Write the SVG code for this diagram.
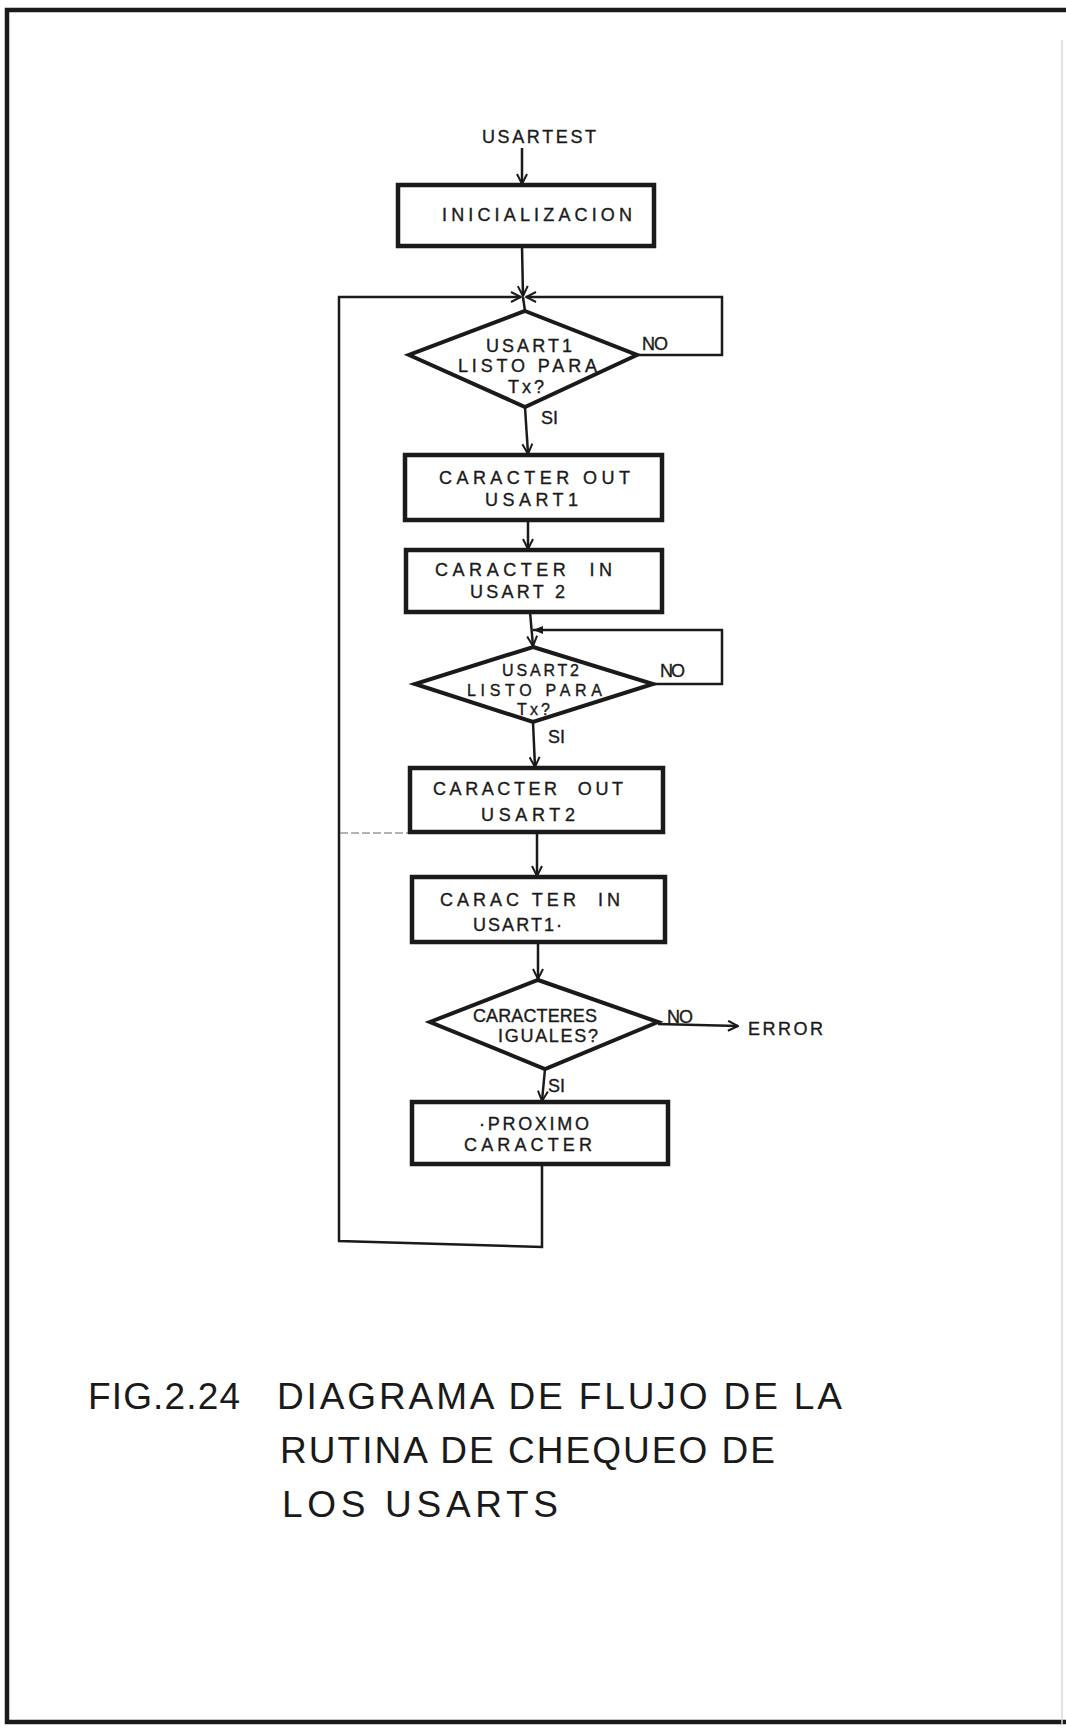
<svg xmlns="http://www.w3.org/2000/svg" width="1066" height="1733" viewBox="0 0 1066 1733">
<defs>
<style>
.t{font-family:"Liberation Sans",Arial,sans-serif;font-size:18px;fill:#1a1a1a;stroke:#1a1a1a;stroke-width:0.35px;}
.s{font-size:16px;}
.ti{font-family:"Liberation Sans",Arial,sans-serif;font-size:37px;fill:#1a1a1a;}
.box{fill:none;stroke:#1a1a1a;stroke-width:4.5;}
.dia{fill:none;stroke:#1a1a1a;stroke-width:4;stroke-linejoin:miter;}
.c{fill:none;stroke:#1a1a1a;stroke-width:2.5;}
</style>
<marker id="ah" viewBox="0 0 12 12" refX="11" refY="6" markerWidth="12" markerHeight="12" markerUnits="userSpaceOnUse" orient="auto">
<path d="M1,1 L11,6 L1,11" fill="none" stroke="#1a1a1a" stroke-width="2"/>
</marker>
<marker id="af" viewBox="0 0 12 12" refX="11" refY="6" markerWidth="12" markerHeight="12" markerUnits="userSpaceOnUse" orient="auto">
<path d="M1,2 L11,6 L1,10 Z" fill="#1a1a1a"/>
</marker>
</defs>
<rect width="1066" height="1733" fill="#ffffff"/>
<g id="frame">
<path d="M1066,10 L7,10 L7,1722 L1066,1722" fill="none" stroke="#1a1a1a" stroke-width="4.5"/>
<line x1="1062" y1="40" x2="1062" y2="1725" stroke="#d8d8d8" stroke-width="1.5"/>
</g>
<g id="connectors">
<line class="c" x1="522" y1="148" x2="522" y2="184" marker-end="url(#ah)"/>
<line class="c" x1="522" y1="246" x2="523" y2="296" marker-end="url(#ah)"/>
<line class="c" x1="523" y1="297" x2="525" y2="311"/>
<polyline class="c" points="542,1164 542,1247 339,1241 339,297 521,297" marker-end="url(#ah)"/>
<polyline class="c" points="637,355 722,355 722,297 526,297" marker-end="url(#ah)"/>
<line class="c" x1="525" y1="407" x2="528" y2="454" marker-end="url(#ah)"/>
<line class="c" x1="528" y1="520" x2="528" y2="549" marker-end="url(#ah)"/>
<line class="c" x1="530" y1="612" x2="533" y2="646" marker-end="url(#ah)"/>
<polyline class="c" points="653,684 722,684 722,630 533,630" marker-end="url(#af)"/>
<line class="c" x1="533" y1="722" x2="535" y2="767" marker-end="url(#ah)"/>
<line class="c" x1="537" y1="832" x2="537" y2="876" marker-end="url(#ah)"/>
<line class="c" x1="538" y1="942" x2="538" y2="979" marker-end="url(#ah)"/>
<line class="c" x1="658" y1="1024" x2="738" y2="1026" marker-end="url(#ah)"/>
<line class="c" x1="545" y1="1069" x2="542" y2="1101" marker-end="url(#ah)"/>
<line x1="340" y1="833" x2="410" y2="833" stroke="#9a9a9a" stroke-width="1.5" stroke-dasharray="8,3"/>
</g>
<g id="start">
<text class="t" x="482" y="143" textLength="114" lengthAdjust="spacing">USARTEST</text>
</g>
<g id="inicializacion">
<rect class="box" x="398" y="185" width="256" height="61"/>
<text class="t" x="442" y="221" textLength="190" lengthAdjust="spacing">INICIALIZACION</text>
</g>
<g id="dec1">
<polygon class="dia" points="525,311 637,355 525,407 409,355"/>
<text class="t" x="486" y="352" textLength="86" lengthAdjust="spacing">USART1</text>
<text class="t" x="458" y="372" textLength="139" lengthAdjust="spacing">LISTO PARA</text>
<text class="t" x="508" y="393" textLength="36" lengthAdjust="spacing">Tx?</text>
<text class="t" x="642" y="350" textLength="26" lengthAdjust="spacing">NO</text>
<text class="t" x="541" y="424">SI</text>
</g>
<g id="out1">
<rect class="box" x="405" y="455" width="257" height="65"/>
<text class="t" x="439" y="484" textLength="191" lengthAdjust="spacing">CARACTER OUT</text>
<text class="t" x="485" y="506" textLength="93" lengthAdjust="spacing">USART1</text>
</g>
<g id="in2">
<rect class="box" x="406" y="550" width="256" height="62"/>
<text class="t" x="435" y="576" textLength="177" lengthAdjust="spacing" xml:space="preserve">CARACTER  IN</text>
<text class="t" x="470" y="598" textLength="95" lengthAdjust="spacing">USART 2</text>
</g>
<g id="dec2">
<polygon class="dia" points="533,647 653,684 533,722 415,684"/>
<text class="t s" x="502" y="676" textLength="77" lengthAdjust="spacing">USART2</text>
<text class="t s" x="467" y="696" textLength="135" lengthAdjust="spacing">LISTO PARA</text>
<text class="t s" x="517" y="715" textLength="33" lengthAdjust="spacing">Tx?</text>
<text class="t" x="660" y="677" textLength="25" lengthAdjust="spacing">NO</text>
<text class="t" x="548" y="743">SI</text>
</g>
<g id="out2">
<rect class="box" x="410" y="768" width="253" height="64"/>
<text class="t" x="433" y="795" textLength="190" lengthAdjust="spacing" xml:space="preserve">CARACTER  OUT</text>
<text class="t" x="481" y="821" textLength="94" lengthAdjust="spacing">USART2</text>
</g>
<g id="in1">
<rect class="box" x="412" y="877" width="253" height="65"/>
<text class="t" x="440" y="906" textLength="180" lengthAdjust="spacing" xml:space="preserve">CARAC TER  IN</text>
<text class="t" x="473" y="931" textLength="89" lengthAdjust="spacing">USART1·</text>
</g>
<g id="dec3">
<polygon class="dia" points="538,980 658,1022 545,1069 430,1022"/>
<text class="t" x="473" y="1022" textLength="124" lengthAdjust="spacing">CARACTERES</text>
<text class="t" x="498" y="1042" textLength="100" lengthAdjust="spacing">IGUALES?</text>
<text class="t" x="667" y="1023" textLength="26" lengthAdjust="spacing">NO</text>
<text class="t" x="548" y="1092">SI</text>
</g>
<g id="error">
<text class="t" x="748" y="1035" textLength="75" lengthAdjust="spacing">ERROR</text>
</g>
<g id="proximo">
<rect class="box" x="412" y="1102" width="256" height="62"/>
<text class="t" x="479" y="1130" textLength="110" lengthAdjust="spacing">·PROXIMO</text>
<text class="t" x="464" y="1151" textLength="128" lengthAdjust="spacing">CARACTER</text>
</g>
<g id="caption">
<text class="ti" x="88" y="1409" textLength="152" lengthAdjust="spacing">FIG.2.24</text>
<text class="ti" x="277" y="1409" textLength="565" lengthAdjust="spacing">DIAGRAMA DE FLUJO DE LA</text>
<text class="ti" x="280" y="1463" textLength="495" lengthAdjust="spacing">RUTINA DE CHEQUEO DE</text>
<text class="ti" x="282" y="1517" textLength="276" lengthAdjust="spacing">LOS USARTS</text>
</g>
</svg>
